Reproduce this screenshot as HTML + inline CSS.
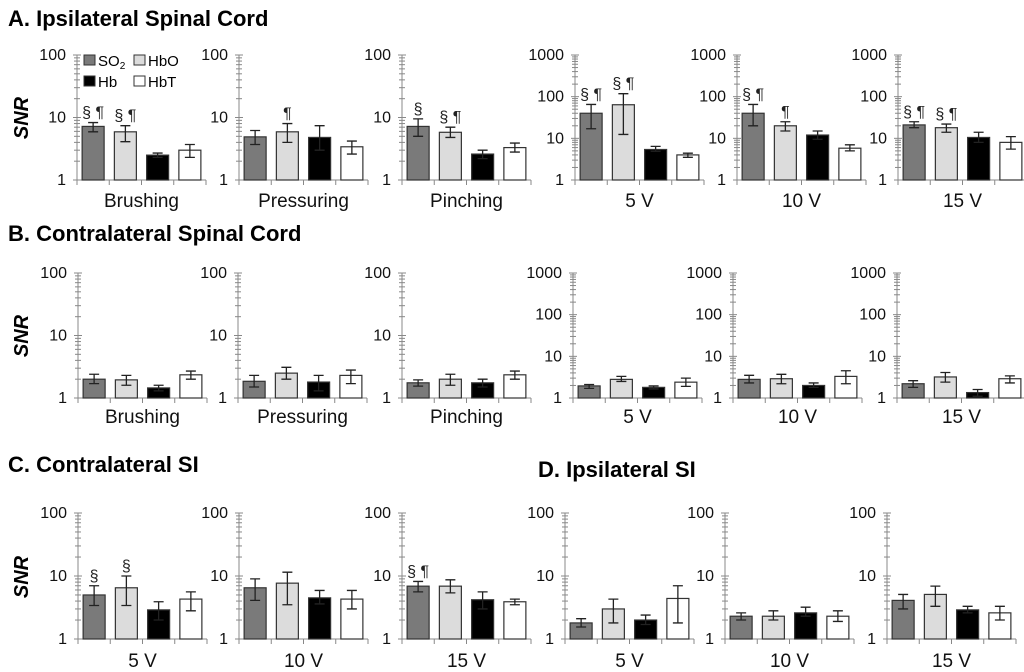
<!DOCTYPE html>
<html><head><meta charset="utf-8"><style>
body{margin:0;background:#fff}
svg{display:block;font-family:"Liberation Sans",Arial,sans-serif}
</style></head><body>
<svg id="fig" width="1024" height="672" viewBox="0 0 1024 672">
<text x="8" y="26" font-size="22" font-weight="bold">A. Ipsilateral Spinal Cord</text>
<text x="8" y="241" font-size="22" font-weight="bold">B. Contralateral Spinal Cord</text>
<text x="8" y="472" font-size="22" font-weight="bold">C. Contralateral SI</text>
<text x="538" y="477" font-size="22" font-weight="bold">D. Ipsilateral SI</text>
<text transform="translate(28,118) rotate(-90)" text-anchor="middle" font-size="20" font-weight="bold" font-style="italic">SNR</text>
<text transform="translate(28,336) rotate(-90)" text-anchor="middle" font-size="20" font-weight="bold" font-style="italic">SNR</text>
<text transform="translate(28,577) rotate(-90)" text-anchor="middle" font-size="20" font-weight="bold" font-style="italic">SNR</text>
<g>
<rect x="84" y="55" width="11" height="10" fill="#7a7a7a" stroke="#333"/>
<text x="98" y="66" font-size="15">SO<tspan font-size="10" dy="3">2</tspan></text>
<rect x="134" y="55" width="11" height="10" fill="#dcdcdc" stroke="#333"/>
<text x="148" y="66" font-size="15">HbO</text>
<rect x="84" y="76" width="11" height="10" fill="#000" stroke="#333"/>
<text x="98" y="87" font-size="15">Hb</text>
<rect x="134" y="76" width="11" height="10" fill="#fff" stroke="#333"/>
<text x="148" y="87" font-size="15">HbT</text>
</g>
</svg>
<script>
const categories = ["Brushing","Pressuring","Pinching","5 V","10 V","15 V","Brushing","Pressuring","Pinching","5 V","10 V","15 V","5 V","10 V","15 V","5 V","10 V","15 V"];
const series = ["SO2","HbO","Hb","HbT"];
const so2   = [7.2,4.9,7.2,40,40,21, 2.0,1.85,1.75,1.95,2.8,2.2, 5.0,6.5,6.9, 1.8,2.3,4.1];
const so2Hi = [8.3,6.2,9.5,65,65,25, 2.4,2.3,1.95,2.1,3.5,2.6, 7,9,8.2, 2.1,2.6,5.1];
const so2Lo = [5.9,3.7,5,17,20,18, 1.7,1.5,1.55,1.7,2.3,1.8, 3.4,4.1,5.6, 1.55,2.0,3.0];
const hbo   = [5.9,5.9,5.8,64,20,18, 1.95,2.5,2.0,2.8,2.9,3.2, 6.5,7.7,6.9, 3.0,2.3,5.1];
const hboHi = [7.4,8,7,118,25,22, 2.3,3.1,2.4,3.3,3.7,4.1, 10,11.5,8.7, 4.3,2.8,6.9];
const hboLo = [4.1,4,4.8,12.4,15,14, 1.6,2.0,1.6,2.5,2.2,2.4, 3.4,3.5,5.4, 1.8,2.0,3.3];
const hb    = [2.5,4.8,2.6,5.4,12,10.5, 1.45,1.8,1.75,1.8,2.0,1.35, 2.9,4.5,4.2, 2.0,2.6,2.9];
const hbHi  = [2.7,7.4,3,6.4,15,14, 1.6,2.3,2,1.95,2.3,1.6, 3.9,5.9,5.6, 2.4,3.2,3.3];
const hbLo  = [2.3,3,2.2,4.9,9.5,8, 1.3,1.3,1.5,1.65,1.8,1.1, 2.0,3.6,3.0, 1.7,2.3,2.6];
const hbt   = [3.0,3.4,3.3,4.0,5.8,8, 2.35,2.3,2.35,2.4,3.3,2.9, 4.3,4.3,3.9, 4.4,2.3,2.6];
const hbtHi = [3.7,4.2,3.9,4.4,7,11, 2.7,2.8,2.7,3,4.5,3.4, 5.6,5.9,4.3, 7,2.8,3.3];
const hbtLo = [2.3,2.6,2.8,3.5,5,5.5, 2.0,1.7,2.0,1.9,2.2,2.3, 2.8,3.0,3.5, 1.8,1.9,2.0];
const so2Marks = ["§ ¶","","§","§ ¶","§ ¶","§ ¶", "","","","","","", "§","","§ ¶", "","",""];
const hboMarks = ["§ ¶","¶","§ ¶","§ ¶","¶","§ ¶", "","","","","","", "§","","", "","",""];
const axisMax = [100,100,100,1000,1000,1000, 100,100,100,1000,1000,1000, 100,100,100, 100,100,100];

const layout = [
 [77,55,180],[239,55,180],[402,55,180],[575,55,180],[737,55,180],[898,55,180],
 [78,273,398],[238,273,398],[402,273,398],[573,273,398],[733,273,398],[897,273,398],
 [78,513,639],[239,513,639],[402,513,639],[565,513,639],[725,513,639],[887,513,639]];
const labelY = [207,207,207,207,207,207, 423,423,423,423,423,423, 667,667,667, 667,667,667];
const fills = ["#7a7a7a","#dcdcdc","#000000","#ffffff"];
const NS = "http://www.w3.org/2000/svg";
const svg = document.getElementById('fig');
function mk(tag, attrs, parent){const e=document.createElementNS(NS,tag);for(const k in attrs)e.setAttribute(k,attrs[k]);(parent||svg).appendChild(e);return e;}

const vals=[so2,hbo,hb,hbt], his=[so2Hi,hboHi,hbHi,hbtHi], los=[so2Lo,hboLo,hbLo,hbtLo], marks=[so2Marks,hboMarks];
const W=129, step=W/4, bw=22;
for(let p=0;p<categories.length;p++){
  const [ax,yt,yb]=layout[p];
  const dec=Math.log10(axisMax[p]);
  const y=v=>yb-(yb-yt)*Math.log10(v)/dec;
  const xc=i=>ax+step*(i+0.5);
  const g=mk('g',{});
  
  
  const axis=mk('g',{stroke:'#888','stroke-width':1},g);
  
  
  mk('line',{x1:ax,y1:yt,x2:ax,y2:yb},axis);
  mk('line',{x1:ax,y1:yb,x2:ax+W,y2:yb},axis);
  for(let d=0;d<=dec;d++){
    const v=Math.pow(10,d);
    mk('line',{x1:ax-4,y1:y(v),x2:ax+4,y2:y(v)},axis);
    const t=mk('text',{x:ax-11,y:y(v)+5,'text-anchor':'end','font-size':16,fill:'#111',stroke:'none'},g);
    t.textContent=String(v);
    
    
    if(d<dec) for(let m=2;m<=9;m++) mk('line',{x1:ax-3,y1:y(v*m),x2:ax+3,y2:y(v*m)},axis);
  }
  for(let i=0;i<=4;i++) mk('line',{x1:ax+step*i,y1:yb,x2:ax+step*i,y2:yb+5},axis);
  for(let s=0;s<4;s++){
    const v=vals[s][p], cx=xc(s);
    const r=mk('rect',{x:cx-bw/2,y:y(v),width:bw,height:yb-y(v),fill:fills[s],stroke:'#333','stroke-width':1.2},g);
    
    
    const hi=y(his[s][p]), lo=y(los[s][p]);
    const e=mk('path',{d:`M${cx},${hi}V${lo}M${cx-5},${hi}H${cx+5}M${cx-5},${lo}H${cx+5}`,stroke:'#222','stroke-width':1.3,fill:'none'},g);
    
    
    if(s<2 && marks[s][p]){
      const t=mk('text',{x:cx,y:hi-5,'text-anchor':'middle','font-size':16,fill:'#222'},g);
      t.textContent=marks[s][p];
      
      
    }
  }
  const c=mk('text',{x:ax+W/2,y:labelY[p],'text-anchor':'middle','font-size':19,fill:'#111'},g);
  c.textContent=categories[p];
  
  
}
</script>
</body></html>
